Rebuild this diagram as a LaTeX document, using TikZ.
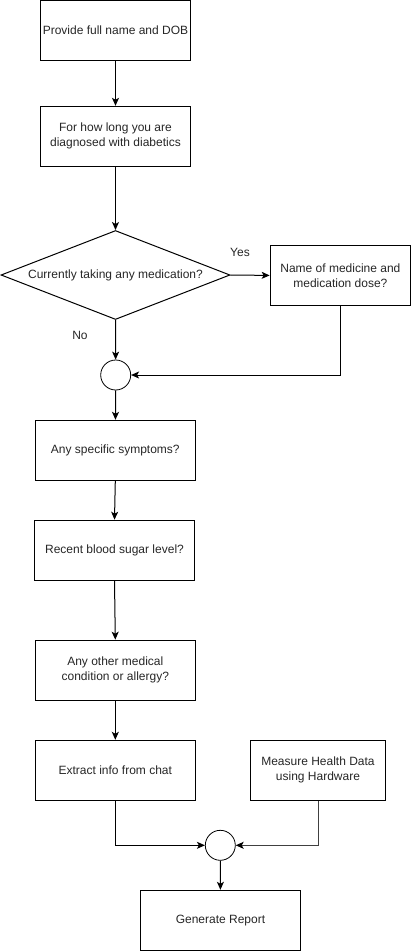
\documentclass[tikz,border=0pt]{standalone}
\usepackage{fontspec}
\setmainfont{Liberation Sans}
\usetikzlibrary{shapes.geometric,arrows.meta}
\begin{document}
\begin{tikzpicture}[x=1pt,y=-1pt,
  every node/.style={font=\fontsize{12}{15}\selectfont, text=black!85},
  box/.style={draw, line width=1pt, minimum width=150pt, minimum height=60pt, inner sep=0pt, align=center},
  dec/.style={draw, line width=1pt, diamond, aspect=2.57, minimum width=229pt, minimum height=89pt, inner sep=0pt, align=center},
  junc/.style={draw, line width=0.8pt, circle, minimum size=30pt, inner sep=0pt},
  lbl/.style={inner sep=0pt},
  conn/.style={line width=1pt, -{Stealth[length=8pt,width=7pt,inset=2pt,color=black]}}
]
\useasboundingbox (0,0) rectangle (411,951);
\node[box] (b1) at (115.5,30.5) {Provide full name and DOB};
\node[box] (b2) at (115.5,136.3) {For how long you are\\diagnosed with diabetics};
\node[dec] (d1) at (115.5,275) {Currently taking any medication?};
\node[box, minimum width=140.5pt, minimum height=59.3pt] (b3) at (340.4,275.4) {Name of medicine and\\medication dose?};
\node[junc] (c1) at (115.7,375) {};
\node[box, minimum width=160pt] (b4) at (115.3,450.3) {Any specific symptoms?};
\node[box, minimum width=160.4pt] (b5) at (114.5,550.2) {Recent blood sugar level?};
\node[box, minimum width=160pt] (b6) at (115.3,670.2) {Any other medical\\condition or allergy?};
\node[box, minimum width=160pt] (b7) at (115.3,770.3) {Extract info from chat};
\node[box, minimum width=135.4pt] (b8) at (318,770.3) {Measure Health Data\\using Hardware};
\node[junc] (c2) at (220.3,845.3) {};
\node[box, minimum width=160.4pt] (b9) at (220.5,920.3) {Generate Report};
\node[lbl] (yes) at (240,252.7) {Yes};
\node[lbl] (no) at (80,335) {No};
\draw[conn] (b1) -- (b2);
\draw[conn] (b2) -- (d1);
\draw[conn] (d1.east) -- (b3.west);
\draw[conn] (d1.south) -- (c1);
\draw[conn] (b3.south) |- (c1.east);
\draw[conn] (c1) -- (b4);
\draw[conn] (b4.south) -- (b5.north);
\draw[conn] (b5.south) -- (b6.north);
\draw[conn] (b6) -- (b7);
\draw[conn] (b7.south) |- (c2.west);
\draw[conn, draw=black!75] (b8.south) |- (c2.east);
\draw[conn] (c2) -- (b9);
\end{tikzpicture}
\end{document}
